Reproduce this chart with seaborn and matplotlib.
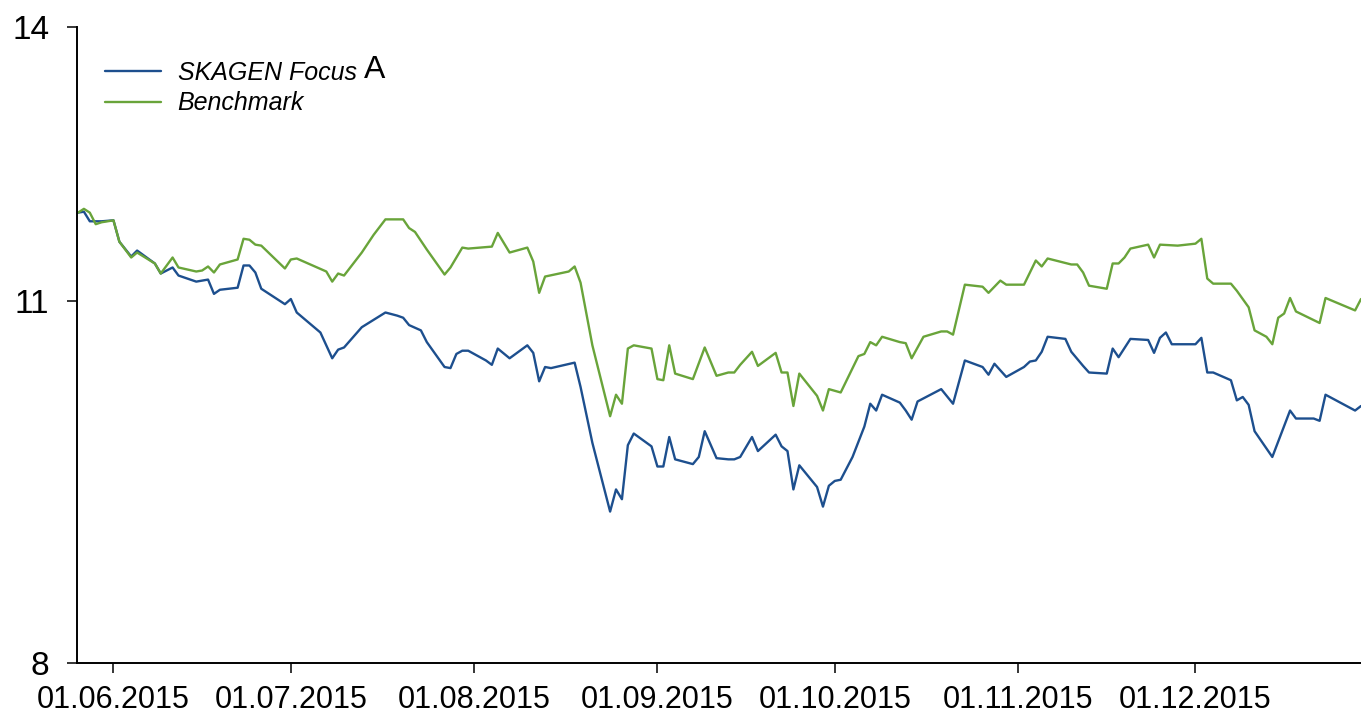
import pandas as pd
import numpy as np
import matplotlib
matplotlib.use("Agg")
import matplotlib.pyplot as plt
import matplotlib.dates as mdates
from matplotlib.ticker import FixedLocator, FixedFormatter, NullLocator
import seaborn as sns

sns.set_theme(style="white")
plt.rcParams['font.family'] = ['Liberation Sans', 'DejaVu Sans']
plt.rcParams['text.color'] = 'black'
plt.rcParams['xtick.color'] = 'black'
plt.rcParams['ytick.color'] = 'black'

# Data
fund_dates = [
    "2015-05-26", "2015-05-27", "2015-05-28", "2015-05-30", "2015-06-01", "2015-06-02",
    "2015-06-04", "2015-06-05", "2015-06-08", "2015-06-09", "2015-06-11", "2015-06-12",
    "2015-06-15", "2015-06-17", "2015-06-18", "2015-06-19", "2015-06-22", "2015-06-23",
    "2015-06-24", "2015-06-25", "2015-06-26", "2015-06-30", "2015-07-01", "2015-07-02",
    "2015-07-06", "2015-07-07", "2015-07-08", "2015-07-09", "2015-07-10", "2015-07-13",
    "2015-07-17", "2015-07-19", "2015-07-20", "2015-07-21", "2015-07-23", "2015-07-24",
    "2015-07-27", "2015-07-28", "2015-07-29", "2015-07-30", "2015-07-31", "2015-08-03",
    "2015-08-04", "2015-08-05", "2015-08-07", "2015-08-10", "2015-08-11", "2015-08-12",
    "2015-08-13", "2015-08-14", "2015-08-18", "2015-08-19", "2015-08-21", "2015-08-24",
    "2015-08-25", "2015-08-26", "2015-08-27", "2015-08-28", "2015-08-31", "2015-09-01",
    "2015-09-02", "2015-09-03", "2015-09-04", "2015-09-07", "2015-09-08", "2015-09-09",
    "2015-09-11", "2015-09-13", "2015-09-14", "2015-09-15", "2015-09-17", "2015-09-18",
    "2015-09-21", "2015-09-22", "2015-09-23", "2015-09-24", "2015-09-25", "2015-09-28",
    "2015-09-29", "2015-09-30", "2015-10-01", "2015-10-02", "2015-10-04", "2015-10-06",
    "2015-10-07", "2015-10-08", "2015-10-09", "2015-10-12", "2015-10-13", "2015-10-14",
    "2015-10-15", "2015-10-19", "2015-10-21", "2015-10-23", "2015-10-26", "2015-10-27",
    "2015-10-28", "2015-10-30", "2015-11-02", "2015-11-03", "2015-11-04", "2015-11-05",
    "2015-11-06", "2015-11-09", "2015-11-10", "2015-11-12", "2015-11-13", "2015-11-16",
    "2015-11-17", "2015-11-18", "2015-11-20", "2015-11-23", "2015-11-24", "2015-11-25",
    "2015-11-26", "2015-11-27", "2015-12-01", "2015-12-02", "2015-12-03", "2015-12-04",
    "2015-12-07", "2015-12-08", "2015-12-09", "2015-12-10", "2015-12-11", "2015-12-14",
    "2015-12-17", "2015-12-18", "2015-12-21", "2015-12-22", "2015-12-23", "2015-12-28",
    "2015-12-29",
]
fund_values = [
    11.89, 11.90, 11.80, 11.80, 11.81, 11.59,
    11.44, 11.50, 11.37, 11.27, 11.33, 11.25,
    11.19, 11.21, 11.07, 11.11, 11.13, 11.35,
    11.35, 11.28, 11.12, 10.97, 11.02, 10.89,
    10.70, 10.58, 10.46, 10.54, 10.56, 10.75,
    10.89, 10.86, 10.84, 10.77, 10.72, 10.61,
    10.38, 10.37, 10.50, 10.53, 10.53, 10.44,
    10.40, 10.55, 10.46, 10.58, 10.51, 10.25,
    10.38, 10.37, 10.42, 10.20, 9.71, 9.14,
    9.32, 9.24, 9.69, 9.79, 9.68, 9.51,
    9.51, 9.76, 9.57, 9.53, 9.59, 9.81,
    9.58, 9.57, 9.57, 9.59, 9.76, 9.64,
    9.78, 9.68, 9.64, 9.32, 9.52, 9.34,
    9.18, 9.35, 9.39, 9.40, 9.59, 9.85,
    10.05, 9.99, 10.13, 10.06, 9.99, 9.91,
    10.07, 10.18, 10.05, 10.44, 10.38, 10.31,
    10.41, 10.29, 10.38, 10.43, 10.44, 10.52,
    10.66, 10.64, 10.52, 10.39, 10.33, 10.32,
    10.55, 10.47, 10.64, 10.63, 10.51, 10.65,
    10.70, 10.59, 10.59, 10.65, 10.33, 10.33,
    10.26, 10.08, 10.11, 10.04, 9.81, 9.59,
    9.99, 9.92, 9.92, 9.90, 10.13, 9.99,
    10.03,
]

bench_dates = [
    "2015-05-26", "2015-05-27", "2015-05-28", "2015-05-29", "2015-05-30", "2015-06-01",
    "2015-06-02", "2015-06-04", "2015-06-05", "2015-06-08", "2015-06-09", "2015-06-11",
    "2015-06-12", "2015-06-15", "2015-06-16", "2015-06-17", "2015-06-18", "2015-06-19",
    "2015-06-22", "2015-06-23", "2015-06-24", "2015-06-25", "2015-06-26", "2015-06-30",
    "2015-07-01", "2015-07-02", "2015-07-07", "2015-07-08", "2015-07-09", "2015-07-10",
    "2015-07-13", "2015-07-15", "2015-07-17", "2015-07-20", "2015-07-21", "2015-07-22",
    "2015-07-24", "2015-07-27", "2015-07-28", "2015-07-30", "2015-07-31", "2015-08-04",
    "2015-08-05", "2015-08-07", "2015-08-10", "2015-08-11", "2015-08-12", "2015-08-13",
    "2015-08-17", "2015-08-18", "2015-08-19", "2015-08-21", "2015-08-24", "2015-08-25",
    "2015-08-26", "2015-08-27", "2015-08-28", "2015-08-31", "2015-09-01", "2015-09-02",
    "2015-09-03", "2015-09-04", "2015-09-07", "2015-09-09", "2015-09-11", "2015-09-13",
    "2015-09-14", "2015-09-15", "2015-09-17", "2015-09-18", "2015-09-21", "2015-09-22",
    "2015-09-23", "2015-09-24", "2015-09-25", "2015-09-28", "2015-09-29", "2015-09-30",
    "2015-10-02", "2015-10-05", "2015-10-06", "2015-10-07", "2015-10-08", "2015-10-09",
    "2015-10-12", "2015-10-13", "2015-10-14", "2015-10-16", "2015-10-19", "2015-10-20",
    "2015-10-21", "2015-10-23", "2015-10-26", "2015-10-27", "2015-10-29", "2015-10-30",
    "2015-11-02", "2015-11-04", "2015-11-05", "2015-11-06", "2015-11-10", "2015-11-11",
    "2015-11-12", "2015-11-13", "2015-11-16", "2015-11-17", "2015-11-18", "2015-11-19",
    "2015-11-20", "2015-11-23", "2015-11-24", "2015-11-25", "2015-11-28", "2015-12-01",
    "2015-12-02", "2015-12-03", "2015-12-04", "2015-12-07", "2015-12-08", "2015-12-10",
    "2015-12-11", "2015-12-13", "2015-12-14", "2015-12-15", "2015-12-16", "2015-12-17",
    "2015-12-18", "2015-12-22", "2015-12-23", "2015-12-28", "2015-12-29",
]
bench_values = [
    11.89, 11.93, 11.89, 11.77, 11.79, 11.81,
    11.59, 11.43, 11.48, 11.37, 11.27, 11.43,
    11.33, 11.29, 11.30, 11.34, 11.28, 11.36,
    11.41, 11.62, 11.61, 11.56, 11.55, 11.32,
    11.41, 11.42, 11.29, 11.19, 11.27, 11.25,
    11.48, 11.66, 11.82, 11.82, 11.73, 11.69,
    11.51, 11.26, 11.33, 11.53, 11.52, 11.54,
    11.68, 11.48, 11.53, 11.39, 11.08, 11.24,
    11.29, 11.34, 11.18, 10.58, 9.94, 10.13,
    10.05, 10.55, 10.58, 10.55, 10.27, 10.26,
    10.58, 10.32, 10.27, 10.56, 10.30, 10.33,
    10.33, 10.40, 10.52, 10.39, 10.51, 10.33,
    10.33, 10.03, 10.32, 10.12, 9.99, 10.18,
    10.15, 10.48, 10.50, 10.61, 10.58, 10.66,
    10.61, 10.60, 10.46, 10.66, 10.71, 10.71,
    10.68, 11.16, 11.14, 11.08, 11.20, 11.16,
    11.16, 11.40, 11.34, 11.42, 11.36, 11.36,
    11.28, 11.15, 11.12, 11.37, 11.37, 11.43,
    11.52, 11.56, 11.43, 11.56, 11.55, 11.57,
    11.62, 11.22, 11.17, 11.17, 11.10, 10.94,
    10.72, 10.66, 10.59, 10.84, 10.88, 11.03,
    10.90, 10.79, 11.03, 10.91, 11.02,
]

fund_label = "SKAGEN Focus"
bench_label = "Benchmark"
y_ticks = [8, 11, 14]
x_ticks = ["2015-06-01", "2015-07-01", "2015-08-01", "2015-09-01",
           "2015-10-01", "2015-11-01", "2015-12-01"]

fund = pd.DataFrame({"date": pd.to_datetime(fund_dates), "value": fund_values})
bench = pd.DataFrame({"date": pd.to_datetime(bench_dates), "value": bench_values})

fig = plt.figure(figsize=(13.61, 7.16), dpi=100)
ax = fig.add_axes([77 / 1361, 53 / 716, 1 - 77 / 1361, (663 - 27) / 716])

sns.lineplot(data=fund, x="date", y="value", ax=ax, color="#1d4f8e", linewidth=1.7, label=fund_label)
sns.lineplot(data=bench, x="date", y="value", ax=ax, color="#69a43a", linewidth=1.7, label=bench_label)

ax.set_yscale("log")
ax.set_ylim(8, 14)
ax.yaxis.set_major_locator(FixedLocator(y_ticks))
ax.yaxis.set_major_formatter(FixedFormatter([str(t) for t in y_ticks]))
ax.yaxis.set_minor_locator(NullLocator())

ax.set_xlim(pd.Timestamp("2015-05-25 20:00"), pd.Timestamp("2015-12-29"))
ax.xaxis.set_major_locator(FixedLocator(mdates.date2num(pd.to_datetime(x_ticks))))
ax.xaxis.set_major_formatter(mdates.DateFormatter("%d.%m.%Y"))
ax.xaxis.set_minor_locator(NullLocator())

ax.set_xlabel("")
ax.set_ylabel("")
ax.grid(False)
for side in ["top", "right"]:
    ax.spines[side].set_visible(False)
for side in ["left", "bottom"]:
    ax.spines[side].set_color("black")
    ax.spines[side].set_linewidth(1.4)

ax.tick_params(axis="both", direction="out", length=7, width=1.1, color="black",
               labelcolor="black", left=True, bottom=True)
ax.tick_params(axis="y", labelsize=24, pad=13)
ax.tick_params(axis="x", labelsize=22, pad=9)

leg = ax.legend(loc="upper left", bbox_to_anchor=(28 / 1284, (663 - 61) / 636),
                frameon=False, prop={"style": "italic", "size": 18},
                handlelength=2.25, handletextpad=0.65, labelspacing=0.25,
                borderaxespad=0, borderpad=0)
for t in leg.get_texts():
    t.set_color("black")

# the upright "A" after the fund name
fig.canvas.draw()
bb = leg.get_texts()[0].get_window_extent()
fig.text((bb.x1 + 7) / fig.bbox.width, bb.y0 / fig.bbox.height, "A",
         fontsize=23, va="bottom", ha="left", color="black")

fig.savefig("out.png", dpi=100)
